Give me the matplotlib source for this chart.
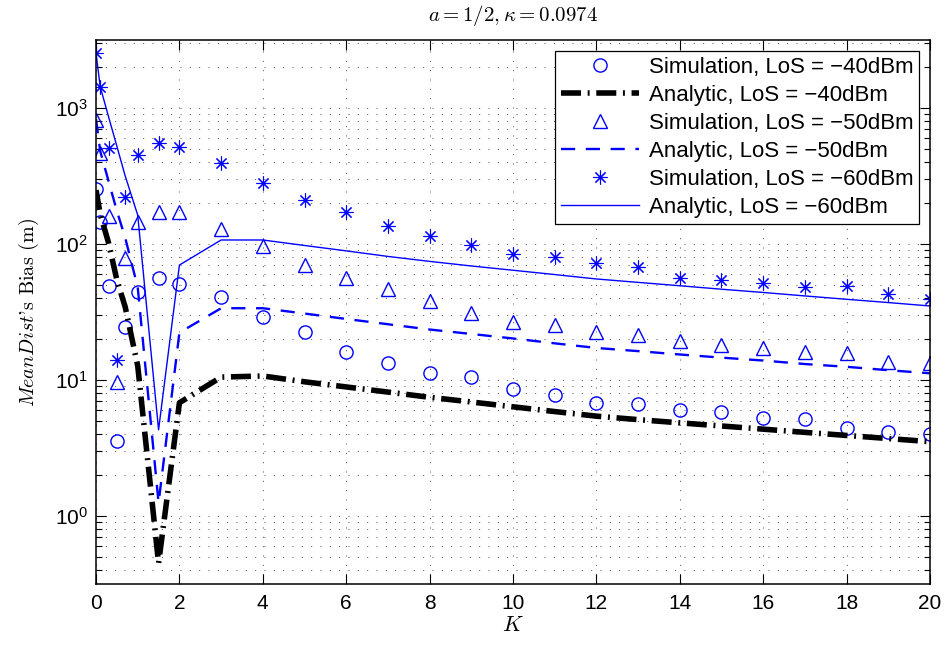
import math
import matplotlib
matplotlib.use("Agg")
import matplotlib.pyplot as plt
from matplotlib.ticker import FixedLocator, FuncFormatter, LogLocator, NullFormatter

plt.rcParams['font.family'] = ['Liberation Sans', 'DejaVu Sans']
plt.rcParams['mathtext.fontset'] = 'custom'
plt.rcParams['mathtext.rm'] = 'Liberation Sans'
plt.rcParams['mathtext.it'] = 'Liberation Sans:italic'
plt.rcParams['mathtext.bf'] = 'Liberation Sans:bold'

# ---------------- data ----------------
K = [0, 0.1, 0.3, 0.5, 0.7, 1, 1.5, 2, 3, 4, 5, 6, 7, 8, 9, 10,
     11, 12, 13, 14, 15, 16, 17, 18, 19, 20]

sim_40 = [254, 146, 49.1, 3.56, 24.6, 44.6, 56, 50.8, 41.0, 29.2, 22.4, 16.1,
          13.3, 11.2, 10.6, 8.54, 7.71, 6.74, 6.67, 6.02, 5.79, 5.23, 5.2,
          4.41, 4.17, 4.0]
ana_40 = [249, 166, 102, 54.4, 34.4, 12.7, 0.45, 6.8, 10.5, 10.7, 9.70, 8.89,
          8.15, 7.46, 6.89, 6.35, 5.86, 5.42, 5.11, 4.84, 4.59, 4.35, 4.12,
          3.91, 3.71, 3.52]
sim_50 = [816, 464, 161, 9.72, 78.5, 144, 171, 171, 128, 97.2, 70.1, 56.5,
          46.7, 38.3, 31.2, 26.8, 25.4, 22.5, 21.5, 19.4, 18.1, 17.1, 16.0,
          15.9, 13.6, 13.4]
ana_50 = [826, 483, 290, 175, 111, 48, 1.25, 22.3, 33.7, 33.7, 30.8, 28.1,
          25.7, 23.5, 21.8, 20.2, 18.6, 17.2, 16.3, 15.4, 14.6, 13.9, 13.1,
          12.5, 11.8, 11.2]
sim_60 = [2524, 1435, 506, 14.0, 223, 451, 550, 514, 396, 282, 211, 171, 136,
          115, 98.3, 84, 80.7, 72.1, 67.2, 56.5, 54.4, 52, 48.0, 49.1, 42.9,
          39.2]
ana_60 = [2524, 1435, 863, 523, 316, 163, 4.3, 70, 107, 107, 97.5, 89, 81,
          74.5, 68.9, 64.1, 59.6, 55.3, 52.2, 49.3, 46.5, 44.0, 41.5, 39.2,
          37.1, 35.0]

labels = ["Simulation, LoS = \u221240dBm", "Analytic, LoS = \u221240dBm",
          "Simulation, LoS = \u221250dBm", "Analytic, LoS = \u221250dBm",
          "Simulation, LoS = \u221260dBm", "Analytic, LoS = \u221260dBm"]
xticks = list(range(0, 21, 2))
yticks = [1, 10, 100, 1000]
title = r"$a = 1/2, \kappa = 0.0974$"
xlabel = r"$K$"
ylabel = r"$MeanDist$'s Bias (m)"

# ---------------- figure ----------------
fig = plt.figure(figsize=(9.47, 6.47), dpi=100)
ax = fig.add_axes([0.1014, 0.0974, 0.8806, 0.8408])

blue = (0, 0, 1)
ms = 9.5
ax.plot(K, sim_40, linestyle='none', marker='o', ms=ms, mfc='none',
        mec=blue, mew=1.0, label=labels[0])
ax.plot(K, ana_40, color='k', lw=4.0, dashes=(3.6, 1.2, 0.35, 1.2),
        dash_capstyle='butt', label=labels[1])
ax.plot(K, sim_50, linestyle='none', marker='^', ms=ms + 1, mfc='none',
        mec=blue, mew=1.0, label=labels[2])
ax.plot(K, ana_50, color=blue, lw=1.7, dashes=(6.0, 4.5),
        dash_capstyle='butt', label=labels[3])
ax.plot(K, sim_60, linestyle='none', marker=(8, 2, 0), ms=ms + 0.5, mfc='none',
        mec=blue, mew=0.8, label=labels[4])
ax.plot(K, ana_60, color=blue, lw=1.0, label=labels[5])

ax.set_yscale('log')
ax.set_xlim(0, 20)
ax.set_ylim(10 ** -0.5, 10 ** 3.5)
ax.xaxis.set_major_locator(FixedLocator(xticks))
ax.yaxis.set_major_locator(FixedLocator(yticks))
ax.yaxis.set_minor_locator(LogLocator(base=10, subs=range(2, 10), numticks=20))
ax.yaxis.set_minor_formatter(NullFormatter())
ax.yaxis.set_major_formatter(FuncFormatter(
    lambda v, p: r"$\mathregular{10^{%d}}$" % round(math.log10(v))))

ax.tick_params(which='both', direction='in', top=True, right=True,
               labelsize=15, width=0.8, colors='k')
ax.tick_params(which='major', length=7)
ax.tick_params(which='minor', length=4)
ax.tick_params(axis='x', pad=7)
ax.tick_params(axis='y', pad=6)

gkw = dict(color='0.2', lw=0.6, dashes=(1.2, 10))
ax.grid(True, which='major', axis='both', **gkw)
ax.grid(True, which='minor', axis='y', **gkw)
for s in ax.spines.values():
    s.set_linewidth(1.1)
    s.set_color('k')

ax.set_title(title, fontsize=15, math_fontfamily='cm', pad=14)
ax.set_xlabel(xlabel, fontsize=16, math_fontfamily='cm', labelpad=2)
ax.set_ylabel(ylabel, fontsize=14.5, family='cmr10', math_fontfamily='cm',
              labelpad=10)

leg = ax.legend(loc='upper right', fontsize=16, frameon=True, fancybox=False,
                edgecolor='k', framealpha=1, numpoints=1, handlelength=3.5,
                labelspacing=0.32, borderaxespad=0.5, borderpad=0.25,
                handletextpad=0.45)
leg.get_frame().set_linewidth(0.9)

fig.savefig("out.png", dpi=100)
